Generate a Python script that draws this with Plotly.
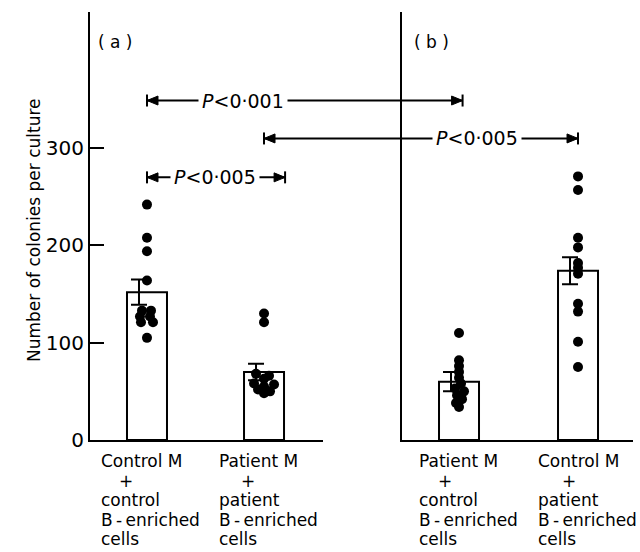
import plotly.graph_objects as go

# ---------------- data ----------------
panel_a_x = [0, 1]
panel_b_x = [0, 1]
panel_a_means = [152, 70]
panel_b_means = [60, 174]
panel_a_sem = [13, 8.5]
panel_b_sem = [10, 14]

# individual cultures
a1_vals = [242, 208, 194, 164, 133, 133, 127, 127, 121, 121, 105]
a2_vals = [130, 121, 68, 66, 63, 58, 57, 55, 52, 50, 48]
b1_vals = [110, 82, 76, 70, 64, 58, 53, 50, 46, 42, 38, 34]
b2_vals = [271, 257, 208, 198, 182, 177, 171, 140, 132, 101, 75]
# horizontal spread of overlapping dots (pixels)
a1_jit = [0, 0, 0, 0, -5, 4, -7, 3, -6, 6, 0]
a2_jit = [0, 0, -8, 5, 0, -10, 10, 0, -6, 6, 0]
b1_jit = [0, 0, 0, 0, 0, 2, -4, 5, -2, 3, -3, 0]
b2_jit = [0, 0, 0, 0, 0, 0, 0, 0, 0, 0, 0]

panel_a_labels = ["Control M", "Patient M"]
panel_a_sub = ["control", "patient"]
panel_b_labels = ["Patient M", "Control M"]
panel_b_sub = ["control", "patient"]
y_ticks = [0, 100, 200, 300]
p_texts = ["P<0·001", "P<0·005", "P<0·005"]

# ---------------- layout geometry ----------------
W, H = 640, 552
ML, MR, MT, MB = 90, 7, 12, 112
PW = W - ML - MR
dom_a = [0, 0.4291]
dom_b = [0.5746, 1.0]
rng_a = [-0.487, 1.504]
rng_b = [-0.479, 1.462]
pxu_a = PW * (dom_a[1] - dom_a[0]) / (rng_a[1] - rng_a[0])
pxu_b = PW * (dom_b[1] - dom_b[0]) / (rng_b[1] - rng_b[0])
YMAX = 440
pxy = (H - MT - MB) / YMAX

FONT = "DejaVu Sans"

def to_paper(panel, x):
    d, r = (dom_a, rng_a) if panel == "a" else (dom_b, rng_b)
    return d[0] + (x - r[0]) / (r[1] - r[0]) * (d[1] - d[0])

fig = go.Figure()

bar_w_a = 40 / pxu_a
bar_w_b = 40 / pxu_b
bar_style = dict(marker=dict(color="white", line=dict(color="black", width=2)), showlegend=False)
fig.add_trace(go.Bar(x=panel_a_x, y=panel_a_means, width=bar_w_a, xaxis="x", yaxis="y", **bar_style))
fig.add_trace(go.Bar(x=panel_b_x, y=panel_b_means, width=bar_w_b, xaxis="x2", yaxis="y2", **bar_style))

# error bars (drawn slightly left of bar centre as in the original)
err_off = 8
fig.add_trace(go.Scatter(x=[v - err_off / pxu_a for v in panel_a_x], y=panel_a_means, mode="markers",
                         marker=dict(color="rgba(0,0,0,0)", size=1),
                         error_y=dict(type="data", array=panel_a_sem, color="black", thickness=2, width=8),
                         xaxis="x", yaxis="y", showlegend=False))
fig.add_trace(go.Scatter(x=[v - err_off / pxu_b for v in panel_b_x], y=panel_b_means, mode="markers",
                         marker=dict(color="rgba(0,0,0,0)", size=1),
                         error_y=dict(type="data", array=panel_b_sem, color="black", thickness=2, width=8),
                         xaxis="x2", yaxis="y2", showlegend=False))

dot = dict(color="black", size=10)
for xc, vals, jit, xa, ya, pu in [
    (panel_a_x[0], a1_vals, a1_jit, "x", "y", pxu_a),
    (panel_a_x[1], a2_vals, a2_jit, "x", "y", pxu_a),
    (panel_b_x[0], b1_vals, b1_jit, "x2", "y2", pxu_b),
    (panel_b_x[1], b2_vals, b2_jit, "x2", "y2", pxu_b),
]:
    fig.add_trace(go.Scatter(x=[xc + j / pu for j in jit], y=vals, mode="markers", marker=dot,
                             xaxis=xa, yaxis=ya, showlegend=False, cliponaxis=False))

# ---------------- significance brackets ----------------
brackets = [
    # (start panel, x, end panel, x, y value, text panel, text x)
    ("a", 0.0, "b", 0.03, 349, "a", 0.82),
    ("a", 1.0, "b", 1.0, 310, "b", 0.151),
    ("a", 0.0, "a", 1.18, 270, "a", 0.58),
]
shapes = []
annots = []
ah_len = 11 / PW
ah_h = 4.5 / pxy
bar_h = 6 / pxy
for (p0, x0, p1, x1, yv, pt, xt), txt in zip(brackets, p_texts):
    X0, X1 = to_paper(p0, x0), to_paper(p1, x1)
    shapes.append(dict(type="line", xref="paper", yref="y", x0=X0, x1=X1, y0=yv, y1=yv,
                       line=dict(color="black", width=2)))
    for X, s in [(X0, 1), (X1, -1)]:
        shapes.append(dict(type="path", xref="paper", yref="y",
                           path=f"M {X} {yv} L {X + s * ah_len} {yv + ah_h} L {X + s * ah_len} {yv - ah_h} Z",
                           fillcolor="black", line=dict(color="black", width=1)))
        shapes.append(dict(type="line", xref="paper", yref="y", x0=X, x1=X, y0=yv - bar_h, y1=yv + bar_h,
                           line=dict(color="black", width=2)))
    t = txt.replace("P", "<i>P</i>").replace("<0", "&lt;0")
    annots.append(dict(text=t, x=xt, y=yv, xref="x" if pt == "a" else "x2", yref="y",
                       showarrow=False, bgcolor="white", borderpad=3,
                       font=dict(family=FONT, size=19, color="black")))

# ---------------- category labels ----------------
lab_specs = [
    ("x", panel_a_x[0] - 48 / pxu_a, panel_a_labels[0], panel_a_sub[0], 27),
    ("x", panel_a_x[1] - 47 / pxu_a, panel_a_labels[1], panel_a_sub[1], 31),
    ("x2", panel_b_x[0] - 42 / pxu_b, panel_b_labels[0], panel_b_sub[0], 28),
    ("x2", panel_b_x[1] - 42 / pxu_b, panel_b_labels[1], panel_b_sub[1], 33),
]
TS = "\u2009"
line_step = 19.5
first_line = 21
for xr, xv, l1, l2, plus_off in lab_specs:
    lines = [l1, "+", l2, f"B{TS}-{TS}enriched", "cells"]
    for i, ln in enumerate(lines):
        is_plus = ln == "+"
        annots.append(dict(text=ln, x=xv, y=0, xref=xr, yref="paper",
                           xanchor="center" if is_plus else "left", yanchor="middle",
                           xshift=plus_off if is_plus else 0,
                           yshift=-(first_line + line_step * i), showarrow=False,
                           font=dict(family=FONT, size=17, color="black")))

annots.append(dict(text="( a )", x=-0.265, y=0.958, xref="x", yref="paper",
                   showarrow=False, font=dict(family=FONT, size=17, color="black")))
annots.append(dict(text="( b )", x=-0.227, y=0.958, xref="x2", yref="paper",
                   showarrow=False, font=dict(family=FONT, size=17, color="black")))
annots.append(dict(text="Number of colonies per culture", x=(22 - ML) / PW, y=(440 - 230) / (H - MT - MB),
                   xref="paper", yref="paper", textangle=-90, showarrow=False,
                   font=dict(family=FONT, size=17, color="black")))

axis_common = dict(showgrid=False, zeroline=False, showline=True, linecolor="black", linewidth=2)
fig.update_layout(
    width=W, height=H,
    margin=dict(l=ML, r=MR, t=MT, b=MB),
    plot_bgcolor="white", paper_bgcolor="white",
    font=dict(family=FONT, color="black"),
    xaxis=dict(domain=dom_a, range=rng_a, showticklabels=False, ticks="", anchor="y", **axis_common),
    xaxis2=dict(domain=dom_b, range=rng_b, showticklabels=False, ticks="", anchor="y2", **axis_common),
    yaxis=dict(range=[0, YMAX], tickvals=y_ticks, ticks="inside", ticklen=14, tickwidth=2, tickcolor="black",
               tickfont=dict(family=FONT, size=20, color="black"), anchor="x", **axis_common),
    yaxis2=dict(range=[0, YMAX], showticklabels=False, ticks="", anchor="x2", **axis_common),
    shapes=shapes,
    annotations=annots,
    showlegend=False,
)

fig.write_html("out.html")
